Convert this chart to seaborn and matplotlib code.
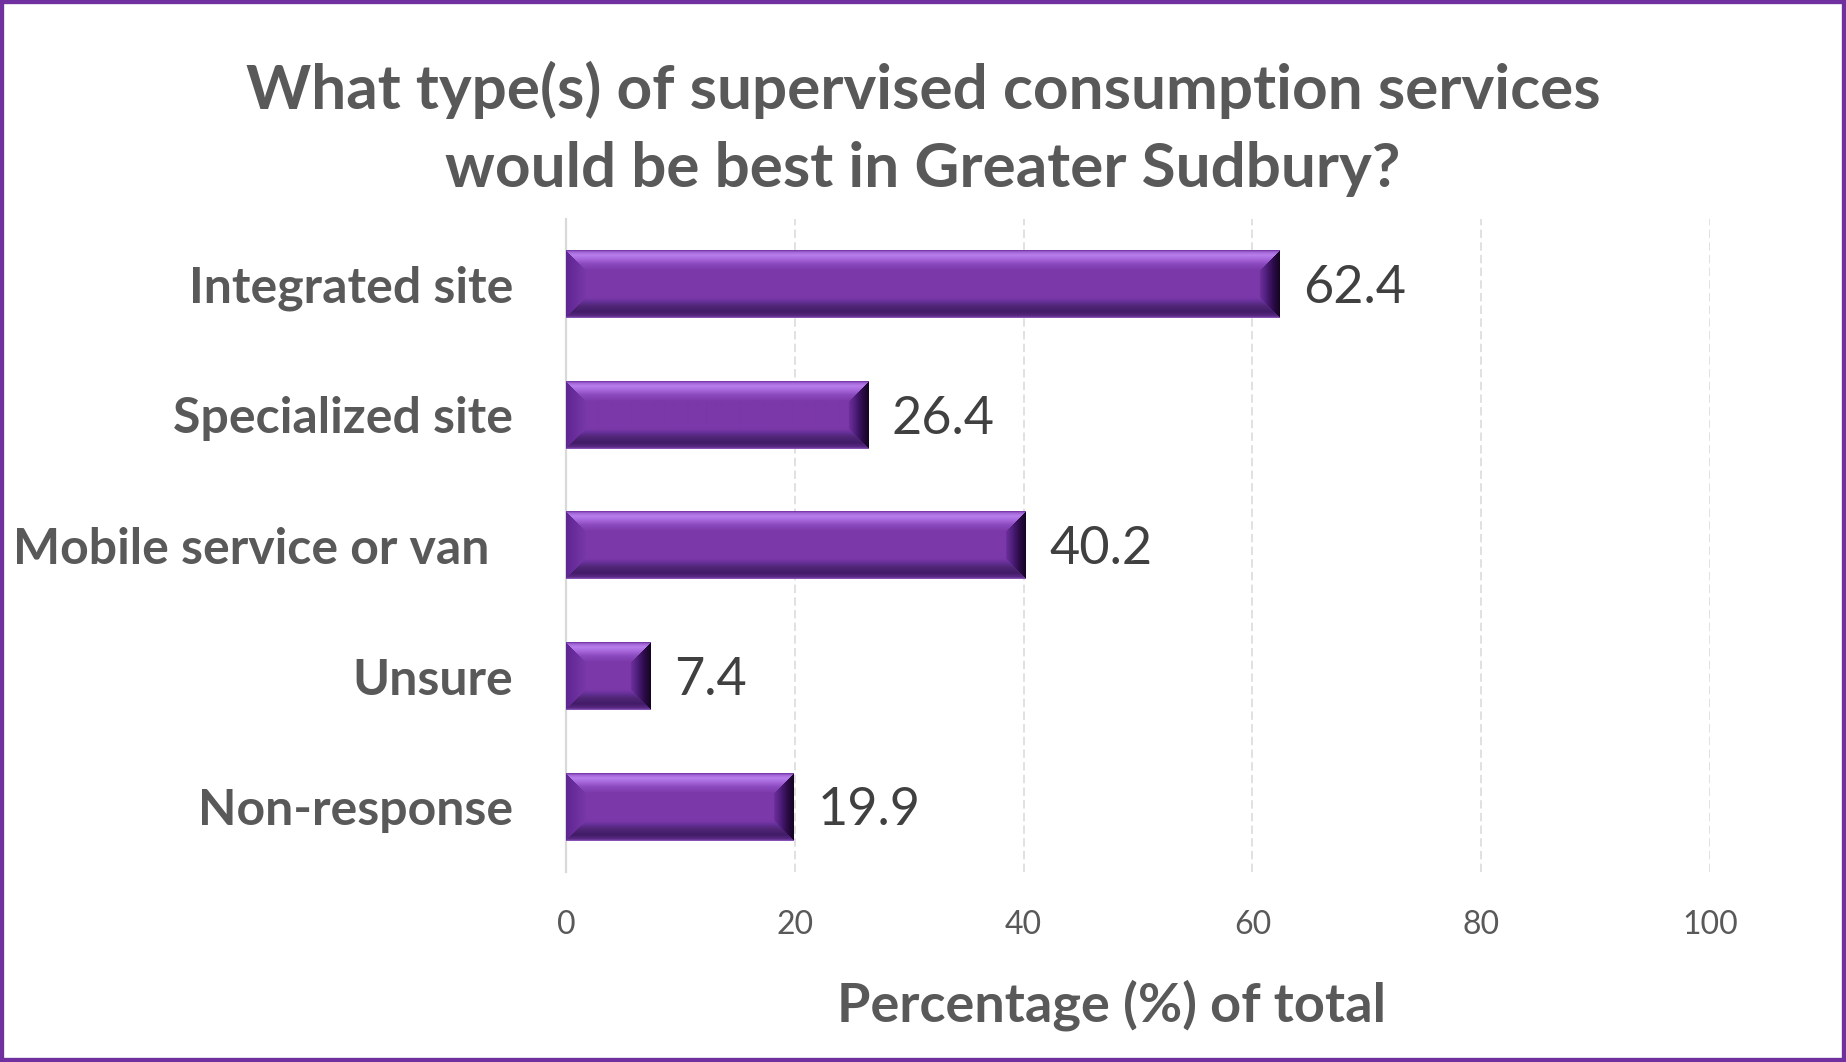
import numpy as np
import matplotlib
matplotlib.use('Agg')
import matplotlib.pyplot as plt
import matplotlib.colors as mcolors
from matplotlib.patches import Rectangle
import seaborn as sns

# chart data
categories = ['Integrated site', 'Specialized site', 'Mobile service or van  ',
              'Unsure', 'Non-response']
percentages = [62.4, 26.4, 40.2, 7.4, 19.9]
x_ticks = [0, 20, 40, 60, 80, 100]

title = 'What type(s) of supervised consumption services\nwould be best in Greater Sudbury?'
x_label = 'Percentage (%) of total'

PURPLE = '#7030A0'
FACE = '#7B38A8'
GREY_TEXT = '#595959'
VALUE_TEXT = '#404040'
GRID = '#D9D9D9'


def ramp(d, stops):
    '''interpolate colour stops (distance in px, colour) along distance d'''
    xs = [s[0] for s in stops]
    cols = np.array([mcolors.to_rgb(s[1]) for s in stops])
    return np.stack([np.interp(d, xs, cols[:, k]) for k in range(3)], axis=-1)


def bevel_bar(ax, patch, bevel=20):
    '''lay a bevelled image over a bar patch, like the Excel "bevel" effect'''
    xlim, ylim = ax.get_xlim(), ax.get_ylim()
    x0, y0 = patch.get_x(), patch.get_y()
    x1, y1 = x0 + patch.get_width(), y0 + patch.get_height()
    (px0, py0), (px1, py1) = ax.transData.transform([(x0, y0), (x1, y1)])
    w = max(int(round(abs(px1 - px0))), 1)
    h = max(int(round(abs(py1 - py0))), 1)
    jj, ii = np.meshgrid(np.arange(w) + 0.5, np.arange(h) + 0.5)
    dist = np.stack([ii, h - ii, jj, w - jj])   # top, bottom, left, right
    nearest = dist.argmin(axis=0)
    dmin = dist.min(axis=0)
    b = bevel
    img = np.empty((h, w, 3))
    img[:] = mcolors.to_rgb(FACE)
    stops = [
        [(0, '#6C2E9E'), (2, '#A064D4'), (5, '#B880EC'), (9, '#A868DC'),
         (14, '#8A4ABE'), (b, FACE)],
        [(0, '#9460C4'), (2, '#5A2A86'), (6, '#421C68'), (12, '#502676'),
         (17, '#68329C'), (b, FACE)],
        [(0, '#5E2692'), (b, '#7838A8')],
        [(0, '#14051F'), (7, '#2E0C4C'), (14, '#50207E'), (b, '#6E309E')],
    ]
    for k in range(4):
        m = (nearest == k) & (dmin < b)
        img[m] = ramp(dmin[m], stops[k])
    ax.imshow(img, extent=(x0, x1, y1, y0), origin='upper', aspect='auto',
              interpolation='bilinear', zorder=3)
    # imshow rescales the axes, put the limits back
    ax.set_xlim(xlim)
    ax.set_ylim(ylim)


sns.set_theme(style='white')
plt.rcParams['font.family'] = ['Lato', 'DejaVu Sans']

fig = plt.figure(figsize=(18.46, 10.62), dpi=100)
ax = fig.add_axes([566 / 1846, 1 - 872 / 1062, 1144 / 1846, 653 / 1062])

sns.barplot(x=percentages, y=categories, orient='h', color=FACE, width=0.52,
            linewidth=0, saturation=1, ax=ax, zorder=2)

ax.set_xlim(0, 100)
ax.set_xticks(x_ticks)

for patch, value in zip(ax.patches, percentages):
    bevel_bar(ax, patch)
    ax.annotate(f'{value}', xy=(patch.get_x() + patch.get_width(),
                                patch.get_y() + patch.get_height() / 2),
                xytext=(17, -3), textcoords='offset points', ha='left', va='center',
                fontsize=37.5, color=VALUE_TEXT)

ax.set_axisbelow(True)
ax.xaxis.grid(True, color=GRID, linewidth=1.1, linestyle=(0, (5.5, 2.8)))
ax.yaxis.grid(False)
for side in ['top', 'right', 'bottom']:
    ax.spines[side].set_visible(False)
ax.spines['left'].set_color(GRID)
ax.spines['left'].set_linewidth(1.6)
ax.spines['left'].set_zorder(1)

ax.tick_params(axis='x', length=0, pad=27, labelsize=23, labelcolor=GREY_TEXT)
ax.tick_params(axis='y', length=0, pad=38, labelsize=36, labelcolor=GREY_TEXT)
for lab in ax.get_yticklabels():
    lab.set_fontweight('bold')

ax.set_xlabel(x_label, fontsize=39, fontweight='bold', color=GREY_TEXT,
              labelpad=29, x=0.477)
ax.set_ylabel('')

fig.text(0.5, 1 - 61 / 1062, title, ha='center', va='top', fontsize=44.7,
         fontweight='bold', color=GREY_TEXT, linespacing=1.47)

fig.add_artist(Rectangle((0, 0), 1, 1, transform=fig.transFigure, fill=False,
                         edgecolor=PURPLE, linewidth=6, clip_on=False))

fig.savefig('out.png', dpi=100)
plt.close(fig)
